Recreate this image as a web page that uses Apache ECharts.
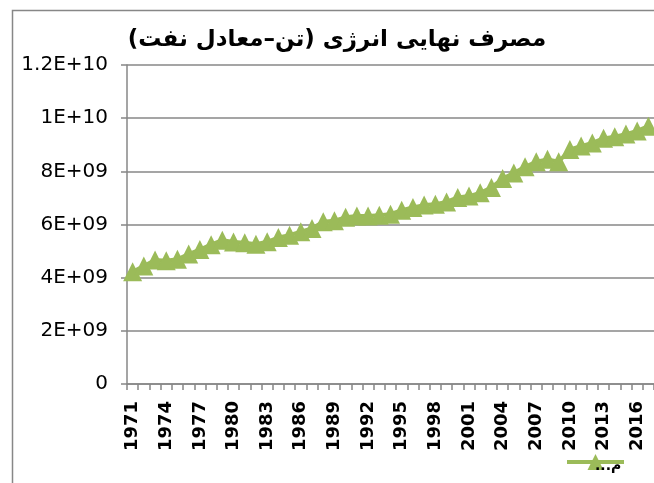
<!DOCTYPE html>
<html>
<head>
<meta charset="utf-8">
<script src="https://cdn.jsdelivr.net/npm/echarts@6/dist/echarts.min.js"></script>
<style>html,body{margin:0;padding:0;background:#fff}#c{width:654px;height:483px}</style>
</head>
<body>
<div id="c"></div>
<script>
var titleText = 'مصرف نهایی انرژی (تن–معادل نفت)\u200F';
var seriesName = 'مصرف نهایی انرژی';
var legendLabel = 'م...\u200F';
var years = ['1971','1972','1973','1974','1975','1976','1977','1978','1979','1980',
  '1981','1982','1983','1984','1985','1986','1987','1988','1989','1990',
  '1991','1992','1993','1994','1995','1996','1997','1998','1999','2000',
  '2001','2002','2003','2004','2005','2006','2007','2008','2009','2010',
  '2011','2012','2013','2014','2015','2016','2017'];
var consumption = [4.22e9,4.44e9,4.66e9,4.64e9,4.69e9,4.89e9,5.06e9,5.24e9,5.41e9,5.34e9,
  5.31e9,5.26e9,5.35e9,5.51e9,5.60e9,5.73e9,5.85e9,6.10e9,6.14e9,6.27e9,
  6.32e9,6.32e9,6.35e9,6.39e9,6.54e9,6.64e9,6.73e9,6.76e9,6.85e9,7.02e9,
  7.07e9,7.19e9,7.39e9,7.73e9,7.94e9,8.17e9,8.36e9,8.45e9,8.36e9,8.82e9,
  8.95e9,9.07e9,9.24e9,9.30e9,9.40e9,9.52e9,9.70e9];
var yTickValues = [0,2e9,4e9,6e9,8e9,1e10,1.2e10];
var yTickLabels = ['0','2E+09','4E+09','6E+09','8E+09','1E+10','1.2E+10'];

var chart = echarts.init(document.getElementById('c'));
var axisGray = '#878787';
chart.setOption({
  animation: false,
  backgroundColor: '#fff',
  graphic: [{
    type: 'rect', shape: {x: 12.5, y: 10.5, width: 700, height: 600},
    style: {fill: 'none', stroke: axisGray, lineWidth: 1.5}, silent: true, z: -1
  }, {
    type: 'text', left: 595, top: 459, z: 10, silent: true,
    style: {text: legendLabel, fontFamily: 'DejaVu Sans', fontSize: 14, fontWeight: 'bold', fill: '#000'}
  }],
  title: {
    text: titleText, left: 332, textAlign: 'center', top: 24,
    textStyle: {fontFamily: 'DejaVu Sans', fontWeight: 'bold', fontSize: 23, color: '#000'}
  },
  legend: {
    left: 560, top: 447,
    itemWidth: 57, itemHeight: 20,
    lineStyle: {width: 4},
    formatter: function () { return ''; },
    data: [seriesName]
  },
  grid: {left: 127, top: 65, right: 0, bottom: 99, containLabel: false},
  xAxis: {
    type: 'category', data: years, boundaryGap: true,
    axisLine: {lineStyle: {color: axisGray, width: 1.5}},
    axisTick: {show: true, interval: 0, length: 6, lineStyle: {color: axisGray, width: 1.5}},
    axisLabel: {interval: 2, rotate: 90, margin: 17,
      fontFamily: 'DejaVu Sans', fontWeight: 'bold', fontSize: 18, color: '#000'}
  },
  yAxis: {
    type: 'value', min: 0, max: 1.2e10, interval: 2e9,
    axisLine: {show: true, lineStyle: {color: axisGray, width: 1.5}},
    axisTick: {show: true, length: 6, lineStyle: {color: axisGray, width: 1.5}},
    splitLine: {lineStyle: {color: axisGray, width: 1.5}},
    axisLabel: {margin: 19, fontFamily: 'DejaVu Sans', fontSize: 20, color: '#000',
      formatter: function (v) {
        var i = yTickValues.indexOf(v);
        return i >= 0 ? yTickLabels[i] : '';
      }}
  },
  series: [{
    name: seriesName, type: 'line', data: consumption,
    symbol: 'triangle', symbolSize: [19, 19], showAllSymbol: true,
    lineStyle: {color: '#9BBB59', width: 4},
    itemStyle: {color: '#9BBB59'}
  }]
});
</script>
</body>
</html>
